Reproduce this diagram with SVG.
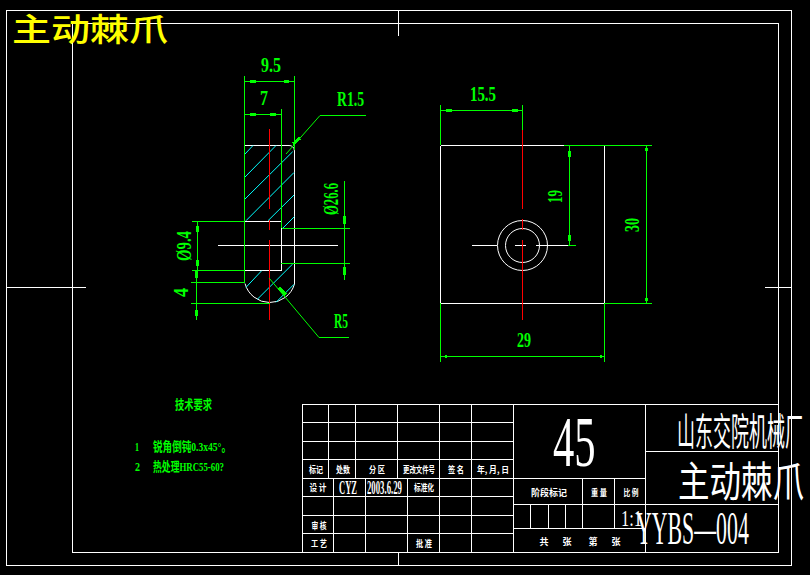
<svg xmlns="http://www.w3.org/2000/svg" width="810" height="575" viewBox="0 0 810 575">
<style>
.w{stroke:#fff;stroke-width:1;fill:none;shape-rendering:crispEdges}
.c{stroke:#fff;stroke-width:1;fill:none}
.g{stroke:#0f0;stroke-width:1;fill:none;shape-rendering:crispEdges}
.gl{stroke:#0f0;stroke-width:1;fill:none}
.r{stroke:#f00;stroke-width:1;fill:none;shape-rendering:crispEdges}
.h{stroke:#0ff;stroke-width:1;fill:none}
.b{stroke:#0f0;stroke-width:3;fill:none;shape-rendering:crispEdges}
text{font-family:"Liberation Serif","Noto Sans CJK SC",serif}
.d{fill:#0f0;font-size:21px;font-weight:bold}
.s{fill:#fff;font-size:9px;font-weight:bold;font-family:"Noto Sans CJK SC",sans-serif;text-anchor:middle}
.t{fill:#0f0;font-size:13px;font-weight:bold;font-family:"Liberation Serif","Noto Sans CJK SC",serif}
.big{fill:#fff;font-family:"Liberation Serif","Noto Sans CJK SC",serif}
.cjk{fill:#fff;font-family:"Noto Sans CJK SC",sans-serif}
</style>
<rect width="810" height="575" fill="#000"/>
<g id="frame">
<path class="w" d="M6.5 10.5H791.5V565.5H6.5Z"/>
<path class="w" d="M72.5 23.5H778.5V552.5H72.5Z"/>
<path class="w" d="M398.5 10V36M398.5 552V565M6 287.5H86M765 287.5H791"/>
</g>
<text id="title" transform="translate(12 41) scale(1.22 1)" font-size="32" font-weight="500" fill="#ff0" style="font-family:'Noto Sans CJK SC',sans-serif">主动棘爪</text>
<g id="side-view">
<path class="w" d="M245 145.5H289M294.5 151V284M245 221.5H281.5V270.5H245M281.5 228.5H294.5M218 245.5H338"/>
<path class="c" d="M289 145.5Q294 145.5 294.5 151M245 283.5A25.7 25.7 0 0 0 294.5 284"/>
<path class="h" d="M245 154L253 145.5M245 177L276 145.5M245 199L292.7 151.7M246 220.7L294 172.5M268 220.7L294 195M282.7 228.3L294.3 216.7M246 287.3L261.7 270.7M257.3 299.3L292.7 264M276 302.3L294 284.3"/>
<path class="r" d="M269.5 129V209M269.5 220V230M269.5 240V320"/>
</g>
<g id="side-dimensions">
<path class="g" d="M244.5 76V283M294.5 76V150M281.5 109V228M245 81.5H294M245 114.5H281M282 228.5H350M281 263.5H350M344.5 181V280M192 221.5H245M192 270.5H245M197.5 222V272M191 282.5H245M191 303.5H270M196.5 272V320M320 115.5H366"/>
<path class="gl" d="M320 115.5L286 154M269.3 278.3L319 337.5H349"/>
<path class="b" d="M250 81.5H256M284 81.5H289M250 114.5H256M270 114.5H276M344 216V224M344 267V275M197.5 226V232M197.5 260V266M196.5 271V278M196.5 310V316"/>
<path class="b" d="M293 144L300 138M279 288L286 295"/>
<text class="d" x="261" y="72" textLength="20" lengthAdjust="spacingAndGlyphs">9.5</text>
<text class="d" x="260" y="105" textLength="8" lengthAdjust="spacingAndGlyphs">7</text>
<text class="d" x="337" y="106" textLength="27" lengthAdjust="spacingAndGlyphs">R1.5</text>
<text class="d" x="334" y="328" textLength="14" lengthAdjust="spacingAndGlyphs">R5</text>
<text class="d" transform="translate(338 215) rotate(-90)" textLength="32" lengthAdjust="spacingAndGlyphs">Ø26.6</text>
<text class="d" transform="translate(191 261) rotate(-90)" textLength="30" lengthAdjust="spacingAndGlyphs">Ø9.4</text>
<text class="d" transform="translate(188 297) rotate(-90)" textLength="9" lengthAdjust="spacingAndGlyphs">4</text>
</g>
<g id="front-view">
<path class="w" d="M440.5 145.5H564M604.5 145.5V303.5H440.5V145.5M472 245.5H497M515 245.5H526M536 245.5H568"/>
<circle class="c" cx="522.5" cy="245.5" r="25"/>
<circle class="c" cx="522.5" cy="245.5" r="17"/>
<path class="r" d="M522.5 130V209M522.5 219V230M522.5 240V320"/>
</g>
<g id="front-dimensions">
<path class="g" d="M440.5 105V145M440.5 303V362M522.5 105V130M604.5 303V362M564 145.5H652M604 303.5H652M440 110.5H522M569.5 145V245M568 245.5H576M646.5 145V303M440 356.5H604"/>
<path class="b" d="M446 110.5H452M512 110.5H518M569.5 151V157M569.5 235V241M646.5 148V151M646.5 298V301M445 356.5H447M600 356.5H602"/>
<text class="d" x="470" y="101" textLength="26" lengthAdjust="spacingAndGlyphs">15.5</text>
<text class="d" x="517" y="347" textLength="14" lengthAdjust="spacingAndGlyphs">29</text>
<text class="d" transform="translate(562 203) rotate(-90)" textLength="13" lengthAdjust="spacingAndGlyphs">19</text>
<text class="d" transform="translate(639 232) rotate(-90)" textLength="14" lengthAdjust="spacingAndGlyphs">30</text>
</g>
<g id="notes">
<text class="t" x="175" y="409" textLength="37" lengthAdjust="spacingAndGlyphs">技术要求</text>
<text class="t" x="135" y="451" textLength="4" lengthAdjust="spacingAndGlyphs">1</text>
<text class="t" x="153" y="451" textLength="78" lengthAdjust="spacingAndGlyphs">锐角倒钝0.3x45°。</text>
<text class="t" x="135" y="471" textLength="5" lengthAdjust="spacingAndGlyphs">2</text>
<text class="t" x="153" y="471" textLength="71" lengthAdjust="spacingAndGlyphs">热处理HRC55-60?</text>
</g>
<g id="title-block">
<path class="w" d="M302.5 404.5H778V552.5H302.5ZM302.5 422.5H513.5M302.5 441.5H513.5M302.5 459.5H513.5M302.5 478.5H645.5M302.5 496.5H513.5M302.5 515.5H513.5M302.5 533.5H513.5M328.5 404.5V478M355.5 404.5V478M397.5 404.5V478M439.5 404.5V552M471.5 404.5V552M513.5 404.5V552M333.5 478V552M365.5 478V552M407.5 478V552M645.5 404.5V552M645.5 451.5H778M513.5 504.5H778M513.5 528.5H645.5M582.5 478V528M614.5 478V528M530.5 504.5V528M548.5 504.5V528M565.5 504.5V528"/>
<text class="s" x="316" y="473" textLength="14" lengthAdjust="spacingAndGlyphs">标记</text>
<text class="s" x="343" y="473" textLength="14" lengthAdjust="spacingAndGlyphs">处数</text>
<text class="s" x="377" y="473" textLength="16" lengthAdjust="spacingAndGlyphs">分 区</text>
<text class="s" x="419" y="473" textLength="32" lengthAdjust="spacingAndGlyphs">更改文件号</text>
<text class="s" x="456" y="473" textLength="16" lengthAdjust="spacingAndGlyphs">签 名</text>
<text class="s" x="493" y="473" textLength="32" lengthAdjust="spacingAndGlyphs">年, 月, 日</text>
<text class="s" x="318" y="491" textLength="17" lengthAdjust="spacingAndGlyphs">设 计</text>
<text class="big" transform="translate(339 494) scale(.45 1)" font-size="19" font-weight="bold">CYZ</text>
<text class="big" transform="translate(367 494) scale(.46 1)" font-size="19" font-weight="bold">2003.6.29</text>
<text class="s" x="424" y="491" textLength="20" lengthAdjust="spacingAndGlyphs">标准化</text>
<text class="s" x="319" y="529" textLength="15" lengthAdjust="spacingAndGlyphs">审 核</text>
<text class="s" x="319" y="547" textLength="16" lengthAdjust="spacingAndGlyphs">工 艺</text>
<text class="s" x="424" y="547" textLength="16" lengthAdjust="spacingAndGlyphs">批 准</text>
<text class="big" transform="translate(553 466) scale(.6 1)" font-size="71">45</text>
<text class="s" x="549" y="496" textLength="36" lengthAdjust="spacingAndGlyphs">阶段标记</text>
<text class="s" x="599" y="496" textLength="16" lengthAdjust="spacingAndGlyphs">重 量</text>
<text class="s" x="631" y="496" textLength="15" lengthAdjust="spacingAndGlyphs">比 例</text>
<text class="s" x="544" y="545" font-size="8">共</text>
<text class="s" x="567" y="545" font-size="8">张</text>
<text class="s" x="593" y="545" font-size="8">第</text>
<text class="s" x="616" y="545" font-size="8">张</text>
<text class="big" transform="translate(621 526) scale(.684 1)" font-size="24">1:1</text>
<text class="big" transform="translate(636 544) scale(.475 1)" font-size="46">YYBS—004</text>
<text class="cjk" transform="translate(677 445) scale(.474 1)" font-size="38">山东交院机械厂</text>
<text class="cjk" transform="translate(678 497) scale(.75 1)" font-size="42">主动棘爪</text>
</g>
</svg>
